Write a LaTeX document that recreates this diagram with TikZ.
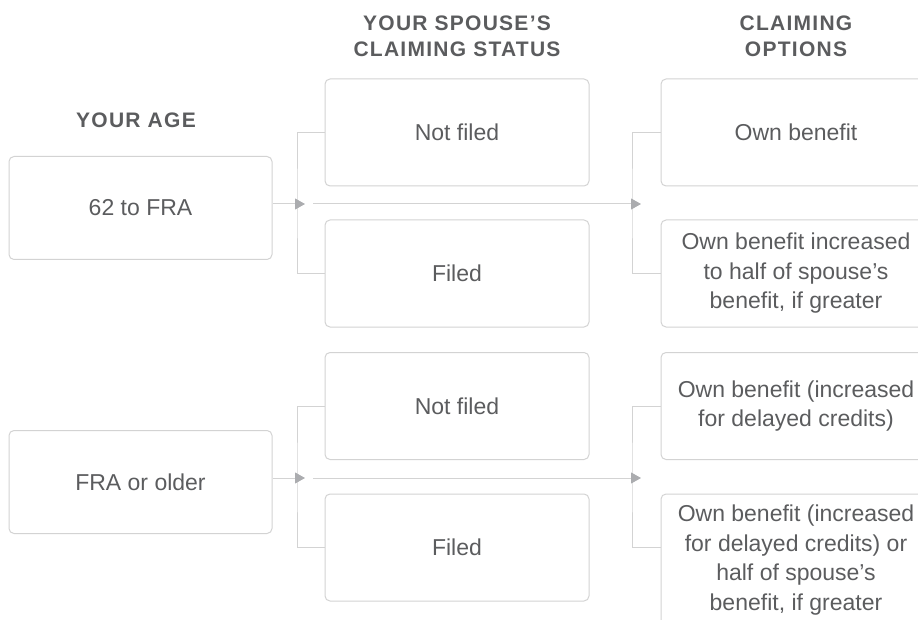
\documentclass[tikz,border=0pt]{standalone}
\usepackage{fontspec}
\setmainfont{Liberation Sans}
\newfontfamily\headfont{Liberation Sans}[LetterSpace=6]
\usetikzlibrary{arrows.meta}

\definecolor{txtgray}{HTML}{5B5C5E}
\definecolor{boxgray}{HTML}{D3D3D3}
\definecolor{tipgray}{HTML}{ABACAF}

\begin{document}
\begin{tikzpicture}[x=1pt, y=-1pt,
    box/.style={draw=boxgray, line width=1pt, rounded corners=5pt, text=txtgray,
        align=center, inner sep=0pt, font=\fontsize{23}{29.5}\selectfont},
    agebox/.style={box, minimum width=263pt, minimum height=103pt},
    midbox/.style={box, minimum width=264pt, minimum height=107pt},
    optbox/.style={box, minimum width=270pt, minimum height=107pt},
    head/.style={text=txtgray, align=center,
        font=\headfont\bfseries\fontsize{21}{26}\selectfont},
    link/.style={draw=boxgray, line width=1pt},
    tip/.style={-{Triangle[length=10pt, width=11pt, color=tipgray]}}]
            \useasboundingbox (0,0) rectangle (918,620);
            \clip (0,0) rectangle (918,620);

            % column heads
            \node[head] (hAge) at (136,120) {YOUR AGE};
            \node[head] (hSpouse) at (457,36) {YOUR SPOUSE’S\\CLAIMING STATUS};
            \node[head] (hOpt) at (796,36) {CLAIMING\\OPTIONS};

            % boxes
            \node[agebox] (age1) at (140.5,208) {62 to FRA};
            \node[agebox] (age2) at (140.5,482) {FRA or older};

            \node[midbox] (nf1) at (457,132.5) {Not filed};
            \node[midbox] (fi1) at (457,273.5) {Filed};
            \node[midbox] (nf2) at (457,406) {Not filed};
            \node[midbox] (fi2) at (457,547.5) {Filed};

            \node[optbox] (opt1) at (796,132.5) {Own benefit};
            \node[optbox] (opt2) at (796,273.5) {Own benefit increased\\to half of spouse’s\\benefit, if greater};
            \node[optbox] (opt3) at (796,406) {Own benefit (increased\\for delayed credits)};
            \node[optbox, minimum height=132pt] (opt4) at (796,560) {Own benefit (increased\\for delayed credits) or\\half of spouse’s\\benefit, if greater};

            % junctions
            \coordinate (b1) at (297,204);
            \coordinate (j1) at (305,204);
            \coordinate (b2) at (632,204);
            \coordinate (j2) at (641,204);
            \coordinate (b3) at (297,478);
            \coordinate (j3) at (305,478);
            \coordinate (b4) at (632,478);
            \coordinate (j4) at (641,478);

            \draw[link] (nf1.west) -| (b1) |- (fi1.west);
            \draw[link] (opt1.west) -| (b2) |- (opt2.west);
            \draw[link] (nf2.west) -| (b3) |- (fi2.west);
            \draw[link] (opt3.west) -| (b4) |- (fi2.west -| opt4.west);

            \draw[link, tip] (age1.east |- j1) -- (j1);
            \draw[link, tip, shorten <=8pt] (j1) -- (j2);
            \draw[link, tip] (age2.east |- j3) -- (j3);
            \draw[link, tip, shorten <=8pt] (j3) -- (j4);

        \end{tikzpicture}
\end{document}
